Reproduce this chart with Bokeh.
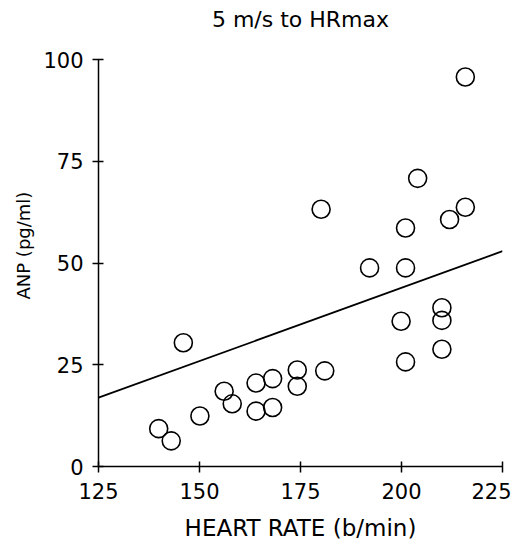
from bokeh.plotting import figure
from bokeh.models import Range1d, FixedTicker, Title, LinearAxis
from bokeh.embed import file_html
from bokeh.resources import INLINE

# Data
heart_rate = [139.9, 143.0, 146.0, 150.1, 156.1, 158.1, 164.0, 164.0, 168.1, 168.1,
              174.2, 174.2, 181.0, 180.1, 192.1, 199.9, 201.0, 201.0, 201.0, 204.0,
              210.0, 210.0, 210.0, 211.9, 215.8, 215.8]
anp = [9.3, 6.3, 30.4, 12.4, 18.5, 15.4, 20.5, 13.6, 21.6, 14.5,
       23.7, 19.7, 23.5, 63.2, 48.8, 35.7, 25.7, 48.8, 58.6, 70.8,
       28.8, 35.9, 39.0, 60.7, 63.7, 95.7]
fit_x = [125, 225]
fit_y = [16.9, 52.9]
x_ticks = [125, 150, 175, 200, 225]
y_ticks = [0, 25, 50, 75, 100]
title_text = "5 m/s to HRmax"
x_label = "HEART RATE (b/min)"
y_label = "ANP (pg/ml)"

FONT = "DejaVu Sans"

p = figure(width=511, height=543, output_backend="svg", toolbar_location=None,
           x_range=Range1d(125, 225), y_range=Range1d(0, 100),
           min_border_left=98, min_border_right=9, min_border_top=59, min_border_bottom=76)
p.outline_line_color = None
p.grid.grid_line_color = None
p.background_fill_color = "white"
p.border_fill_color = "white"

for ax in (p.xaxis[0], p.yaxis[0]):
    ax.axis_line_width = 1.5
    ax.axis_line_color = "black"
    ax.major_tick_line_width = 1.5
    ax.major_tick_line_color = "black"
    ax.major_tick_in = 5
    ax.major_tick_out = 6
    ax.minor_tick_line_color = None
    ax.major_label_text_font = FONT
    ax.major_label_text_font_size = "21px"
    ax.major_label_text_color = "black"

p.xaxis.ticker = FixedTicker(ticks=x_ticks)
p.yaxis.ticker = FixedTicker(ticks=y_ticks)
p.xaxis.major_label_standoff = 10
p.yaxis.major_label_standoff = 9
p.xaxis.axis_label = x_label
p.xaxis.axis_label_text_font = FONT
p.xaxis.axis_label_text_font_size = "23px"
p.xaxis.axis_label_text_font_style = "normal"
p.xaxis.axis_label_text_color = "black"
p.xaxis.axis_label_standoff = 13

# chart title carried by a bare axis above the frame
top_axis = LinearAxis(ticker=FixedTicker(ticks=[]), axis_line_color=None,
                      major_tick_line_color=None, minor_tick_line_color=None,
                      major_label_text_font_size="0px",
                      axis_label=title_text, axis_label_text_font=FONT,
                      axis_label_text_font_size="22px",
                      axis_label_text_font_style="normal",
                      axis_label_text_color="black", axis_label_standoff=28)
p.add_layout(top_axis, "above")

p.add_layout(Title(text=y_label, align="left", text_font=FONT,
                   text_font_size="18px", text_font_style="normal",
                   text_color="black", standoff=14, offset=167), "left")

p.line(fit_x, fit_y, line_color="black", line_width=1.8)
p.scatter(heart_rate, anp, marker="circle", size=18, fill_color=None,
          line_color="black", line_width=1.6)

open("out.html", "w").write(file_html(p, INLINE))
